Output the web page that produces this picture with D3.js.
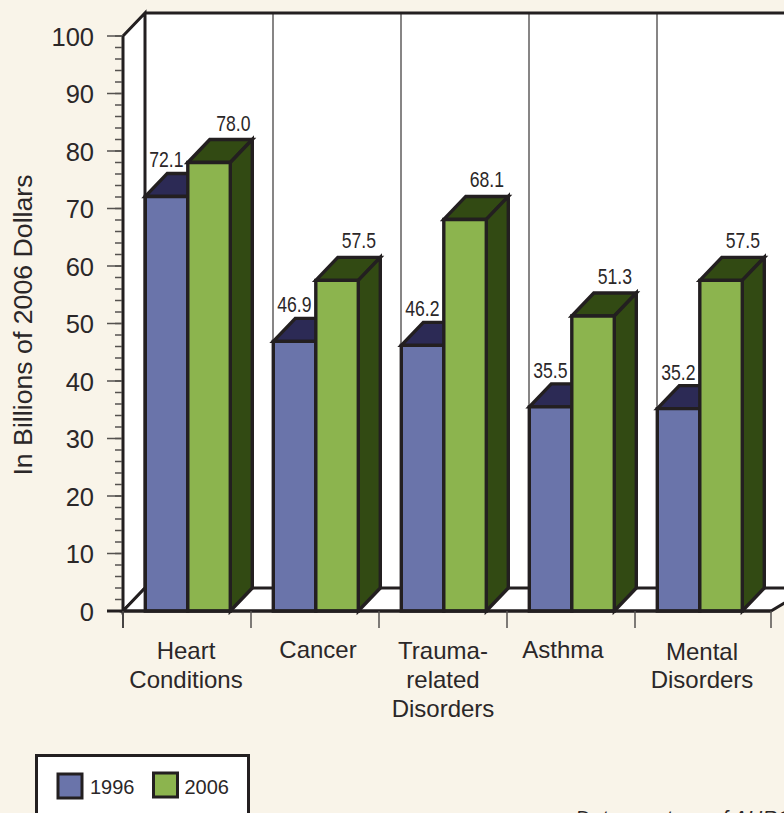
<!DOCTYPE html>
<html>
<head>
<meta charset="utf-8">
<script src="https://cdn.jsdelivr.net/npm/d3@7"></script>
<style>
  html, body { margin: 0; padding: 0; background: #f9f4e9; overflow: hidden; }
  text { font-family: "Liberation Sans", Arial, sans-serif; fill: #2b2728; }
</style>
</head>
<body>
<script>
var categories = ["Heart Conditions", "Cancer", "Trauma-related Disorders", "Asthma", "Mental Disorders"];
var categoryLines = [["Heart", "Conditions"], ["Cancer"], ["Trauma-", "related", "Disorders"], ["Asthma"], ["Mental", "Disorders"]];
var seriesNames = ["1996", "2006"];
var values1996 = [72.1, 46.9, 46.2, 35.5, 35.2];
var values2006 = [78.0, 57.5, 68.1, 51.3, 57.5];
var yTicks = [0, 10, 20, 30, 40, 50, 60, 70, 80, 90, 100];
var minorTicks = d3.range(0, 101, 2);

var ink = "#231f20";
var colors = { "1996": ["#6a74aa", "#2c2a55"], "2006": ["#8cb44e", "#324a13"] };
var depthX = 22, depthY = 23;   // offset of the back wall

var svg = d3.select("body").append("svg")
    .attr("width", 784)
    .attr("height", 813)
    .style("display", "block");

var y = d3.scaleLinear().domain([0, 100]).range([611, 36]);
var x = d3.scaleBand().domain(categories).range([123, 763]);   // 128 a band
var xSeries = d3.scaleBand().domain(seriesNames).range([depthX + 0.3, depthX + 85.3]);

function poly(pts, fill, sw) {
  return svg.append("polygon")
      .attr("points", pts.map(function(p) { return p.join(","); }).join(" "))
      .attr("fill", fill)
      .attr("stroke", ink)
      .attr("stroke-width", sw === undefined ? 3.4 : sw)
      .attr("stroke-linejoin", "miter");
}

// walls and floor
var wallX = 123 + depthX, wallTop = y(100) - depthY, wallBottom = y(0) - depthY;
svg.append("rect").attr("x", wallX).attr("y", wallTop)
    .attr("width", 784 - wallX).attr("height", wallBottom - wallTop).attr("fill", "#fff");
poly([[123, y(100)], [wallX, wallTop], [wallX, wallBottom], [123, y(0)]], "#fff", 3);
poly([[123, y(0)], [wallX, wallBottom], [810, wallBottom], [771, y(0)]], "#fff", 3);

// back wall dividers
svg.selectAll(".divider").data(categories.slice(1)).enter().append("line")
    .attr("class", "divider")
    .attr("x1", function(d) { return x(d) + depthX; })
    .attr("x2", function(d) { return x(d) + depthX; })
    .attr("y1", wallTop).attr("y2", wallBottom)
    .attr("stroke", "#5f5d5d").attr("stroke-width", 1.5);

svg.append("line").attr("x1", wallX).attr("x2", 784).attr("y1", wallTop).attr("y2", wallTop)
    .attr("stroke", ink).attr("stroke-width", 3);

// axis ticks
svg.selectAll(".minor").data(minorTicks).enter().append("line")
    .attr("class", "minor")
    .attr("x1", 115).attr("x2", 123)
    .attr("y1", function(d) { return y(d); }).attr("y2", function(d) { return y(d); })
    .attr("stroke", "#55524f").attr("stroke-width", 1.5);
svg.selectAll(".major").data(yTicks).enter().append("line")
    .attr("class", "major")
    .attr("x1", 107).attr("x2", 123)
    .attr("y1", function(d) { return y(d); }).attr("y2", function(d) { return y(d); })
    .attr("stroke", "#55524f").attr("stroke-width", 1.5);
svg.selectAll(".ylab").data(yTicks).enter().append("text")
    .attr("class", "ylab")
    .attr("x", 94)
    .attr("y", function(d) { return y(d) + 9.5; })
    .attr("text-anchor", "end")
    .attr("font-size", 25.5)
    .text(function(d) { return d; });

svg.append("text")
    .attr("transform", "translate(32,325) rotate(-90)")
    .attr("text-anchor", "middle")
    .attr("font-size", 26.7)
    .text("In Billions of 2006 Dollars");

// bars, 1996 first so 2006 overlaps it
function drawBar(cat, name, value, hasSide) {
  var x0 = x(cat) + xSeries(name), x1 = x0 + xSeries.bandwidth();
  var top = y(value), base = y(0);
  poly([[x0, top], [x0 + depthX, top - depthY], [x1 + depthX, top - depthY], [x1, top]], colors[name][1]);
  if (hasSide) {
    poly([[x1, top], [x1 + depthX, top - depthY], [x1 + depthX, base - depthY], [x1, base]], colors[name][1]);
  }
  poly([[x0, top], [x1, top], [x1, base], [x0, base]], colors[name][0]);
}
categories.forEach(function(cat, i) {
  drawBar(cat, "1996", values1996[i], false);
  drawBar(cat, "2006", values2006[i], true);
});

// value labels, squeezed like the original condensed type
function valueLabel(cat, name, value, dx, dy) {
  svg.append("text")
      .attr("transform", "translate(" + (x(cat) + xSeries(name) + dx) + "," + (y(value) + dy) + ") scale(0.8,1)")
      .attr("text-anchor", "middle")
      .attr("font-size", 22)
      .text(value.toFixed(1));
}
categories.forEach(function(cat, i) {
  valueLabel(cat, "1996", values1996[i], 21, -29);
  valueLabel(cat, "2006", values2006[i], i === 0 ? 45.5 : 43, -32);
});

// x axis
svg.append("line").attr("x1", 107).attr("x2", 771).attr("y1", y(0)).attr("y2", y(0))
    .attr("stroke", ink).attr("stroke-width", 3);
svg.append("line").attr("x1", 123).attr("x2", 123).attr("y1", y(100)).attr("y2", 628)
    .attr("stroke", ink).attr("stroke-width", 2);
var xTickPos = categories.map(function(d) { return x(d); }).concat([771]);
svg.selectAll(".xtick").data(xTickPos).enter().append("line")
    .attr("class", "xtick")
    .attr("x1", function(d) { return d; }).attr("x2", function(d) { return d; })
    .attr("y1", y(0)).attr("y2", 628)
    .attr("stroke", "#55524f").attr("stroke-width", 1.5);

var labelShift = [[-1, 0], [3, -1], [0, 0], [-8, -1], [3, 1]];
categories.forEach(function(cat, i) {
  var cx = x(cat) + x.bandwidth() / 2 + labelShift[i][0];
  categoryLines[i].forEach(function(line, j) {
    svg.append("text")
        .attr("x", cx)
        .attr("y", 659 + labelShift[i][1] + j * (j === 1 && i === 4 ? 28 : 29))
        .attr("text-anchor", "middle")
        .attr("font-size", 24)
        .text(line);
  });
});

// legend, cut off by the bottom of the page as in the source
svg.append("rect").attr("x", 36.5).attr("y", 755.5).attr("width", 212).attr("height", 80)
    .attr("fill", "#fff").attr("stroke", ink).attr("stroke-width", 3);
seriesNames.forEach(function(name, i) {
  var lx = 58 + i * 95.5;
  svg.append("rect").attr("x", lx).attr("y", 774 - i).attr("width", 24).attr("height", 24)
      .attr("fill", colors[name][0]).attr("stroke", ink).attr("stroke-width", 3);
  svg.append("text").attr("x", lx + 32 - i).attr("y", 793.5).attr("font-size", 20).text(name);
});

svg.append("text").attr("x", 575).attr("y", 825)
    .attr("font-size", 21).attr("font-style", "italic")
    .text("Data courtesy of AHRQ");
</script>
</body>
</html>
